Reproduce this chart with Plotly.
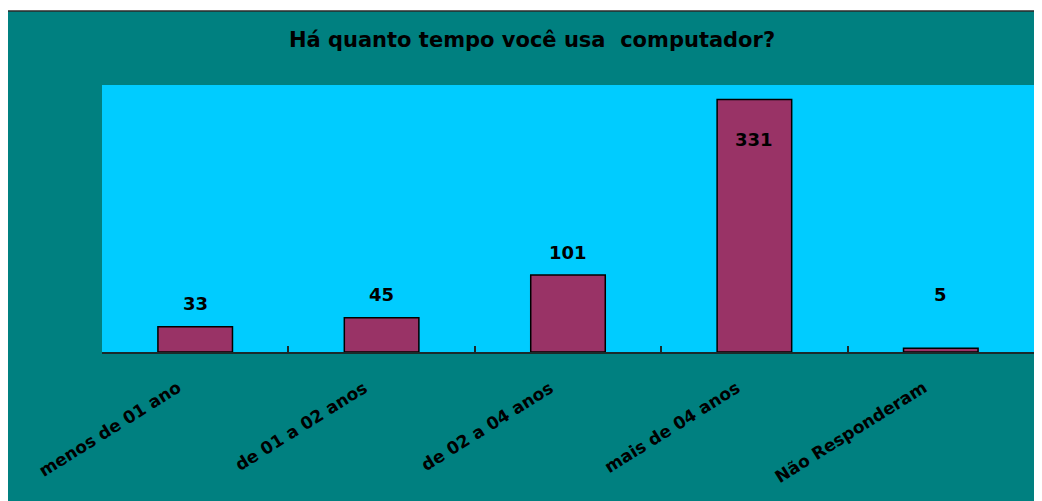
import plotly.graph_objects as go

categories = ["menos de 01 ano", "de 01 a 02 anos", "de 02 a 04 anos",
              "mais de 04 anos", "Não Responderam"]
counts = [33, 45, 101, 331, 5]

Y_MAX = 350
# page body has an 8px margin, so the figure is a bit smaller than the window
W, H = 1034, 493
L, R, T, B = 94, 8, 77, 149
plot_w = W - L - R
plot_h = H - T - B

TEAL = "#008080"
CYAN = "#00CCFF"
BAR = "#993366"
FONT = "DejaVu Sans, Verdana, sans-serif"


def label_y(v):
    # excel-ish placement: above the bar, tiny bars lifted, tall ones pushed inside
    if v < 20:
        return 75
    if v + 30 > Y_MAX - 10:
        return v - 53
    return v + 30


def px_x(p):
    return (p - L) / plot_w


def px_y(p):
    return (H - B - p) / plot_h


fig = go.Figure()

fig.add_trace(go.Bar(
    x=categories,
    y=counts,
    width=0.4,
    marker=dict(color=BAR, line=dict(color="black", width=1.5)),
    hoverinfo="x+y",
    showlegend=False,
))

for c, v in zip(categories, counts):
    fig.add_annotation(
        x=c, y=label_y(v), text="<b>%d</b>" % v, showarrow=False,
        font=dict(family=FONT, size=18, color="black"),
    )

# rotated category labels, ending just left of each category centre (excel style)
for c in categories:
    fig.add_annotation(
        x=c, y=0, text="<b>%s</b>" % c, showarrow=False,
        textangle=-32, xanchor="right", yanchor="top",
        xshift=-8, yshift=-22,
        font=dict(family=FONT, size=17, color="black"),
    )

# teal chart area, then the cyan plot area on top of it
fig.add_shape(
    type="rect", xref="paper", yref="paper", layer="below",
    x0=px_x(-6), x1=px_x(W + 4), y0=px_y(H + 4), y1=px_y(3),
    fillcolor=TEAL, line=dict(color="#2a2a2a", width=1.5),
)
fig.add_shape(
    type="rect", xref="paper", yref="paper", layer="below",
    x0=0, x1=1, y0=0, y1=1,
    fillcolor=CYAN, line=dict(width=0),
)

fig.update_layout(
    width=W, height=H,
    margin=dict(l=L, r=R, t=T, b=B),
    paper_bgcolor="white",
    plot_bgcolor=CYAN,
    bargap=0.6,
    title=dict(
        text="<b>Há quanto tempo você usa  computador?</b>",
        x=524 / W, xanchor="center", y=1 - 32 / H, yanchor="middle",
        font=dict(family=FONT, size=21, color="black"),
    ),
    font=dict(family=FONT, color="black"),
)

fig.update_xaxes(
    range=[-0.5, len(categories) - 0.5],
    showticklabels=False,
    tickson="boundaries",
    ticks="inside", ticklen=6, tickcolor="#1a2a2a", tickwidth=1.5,
    showline=True, linecolor="#1a2a2a", linewidth=2,
    showgrid=False,
)
fig.update_yaxes(
    range=[0, Y_MAX],
    visible=False,
    showgrid=False,
)

fig.write_html("out.html")
